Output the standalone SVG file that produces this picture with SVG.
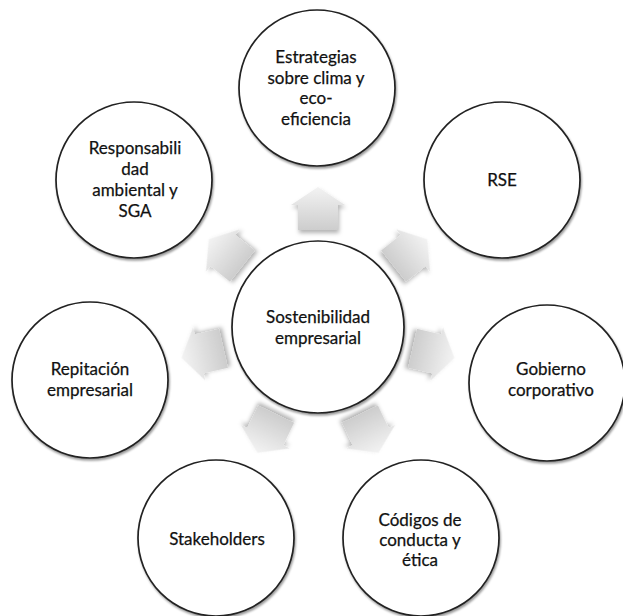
<svg xmlns="http://www.w3.org/2000/svg" width="623" height="616" viewBox="0 0 623 616">
<defs>
<linearGradient id="ag" x1="0" y1="0" x2="0" y2="1">
<stop offset="0" stop-color="#f3f3f3"/>
<stop offset="1" stop-color="#cdcdcd"/>
</linearGradient>
<filter id="cs" x="-20%" y="-20%" width="140%" height="140%">
<feDropShadow dx="1" dy="2" stdDeviation="1.2" flood-color="#000" flood-opacity="0.4"/>
</filter>
<filter id="as" x="-40%" y="-40%" width="180%" height="180%">
<feDropShadow dx="1" dy="3" stdDeviation="2" flood-color="#000" flood-opacity="0.3"/>
</filter>
<path id="arr" d="M0,-22 L27,-4 L20,-4 L20,21 L-20,21 L-20,-4 L-27,-4 Z"/>
</defs>
<style>
.node circle{fill:#fff;stroke:#222;stroke-width:1.7;filter:url(#cs)}
.node text{font-family:Lato,"Open Sans",sans-serif;font-size:17px;fill:#111;stroke:#111;stroke-width:0.25;text-anchor:middle}
.arrow{fill:url(#ag);filter:url(#as)}
</style>
<rect width="623" height="616" fill="#fff"/>
<g id="connectors">
<use href="#arr" class="arrow" transform="translate(318,209) rotate(0)"/>
<use href="#arr" class="arrow" transform="translate(410,253) rotate(51.43)"/>
<use href="#arr" class="arrow" transform="translate(433,353) rotate(102.86)"/>
<use href="#arr" class="arrow" transform="translate(369,433) rotate(154.29)"/>
<use href="#arr" class="arrow" transform="translate(267,433) rotate(205.71)"/>
<use href="#arr" class="arrow" transform="translate(203,353) rotate(257.14)"/>
<use href="#arr" class="arrow" transform="translate(226,253) rotate(308.57)"/>
</g>
<g id="n-center" class="node">
<circle cx="318" cy="327" r="86"/>
<text x="318" y="323">Sostenibilidad</text>
<text x="318" y="344">empresarial</text>
</g>
<g id="n-estrategias" class="node">
<circle cx="317" cy="88" r="78"/>
<text x="316" y="63">Estrategias</text>
<text x="316" y="84">sobre clima y</text>
<text x="316" y="104">eco-</text>
<text x="316" y="125">eficiencia</text>
</g>
<g id="n-rse" class="node">
<circle cx="502" cy="180" r="78"/>
<text x="502" y="186">RSE</text>
</g>
<g id="n-gobierno" class="node">
<circle cx="547" cy="383" r="78"/>
<text x="551" y="375">Gobierno</text>
<text x="551" y="396">corporativo</text>
</g>
<g id="n-codigos" class="node">
<circle cx="421" cy="538" r="78"/>
<text x="420" y="526">Códigos de</text>
<text x="420" y="546">conducta y</text>
<text x="420" y="566">ética</text>
</g>
<g id="n-stakeholders" class="node">
<circle cx="216" cy="538" r="78"/>
<text x="217" y="545">Stakeholders</text>
</g>
<g id="n-repitacion" class="node">
<circle cx="90" cy="380" r="78"/>
<text x="90" y="375">Repitación</text>
<text x="90" y="396">empresarial</text>
</g>
<g id="n-responsabilidad" class="node">
<circle cx="134" cy="180" r="78"/>
<text x="135" y="154">Responsabili</text>
<text x="135" y="175">dad</text>
<text x="135" y="196">ambiental y</text>
<text x="135" y="217">SGA</text>
</g>
</svg>
